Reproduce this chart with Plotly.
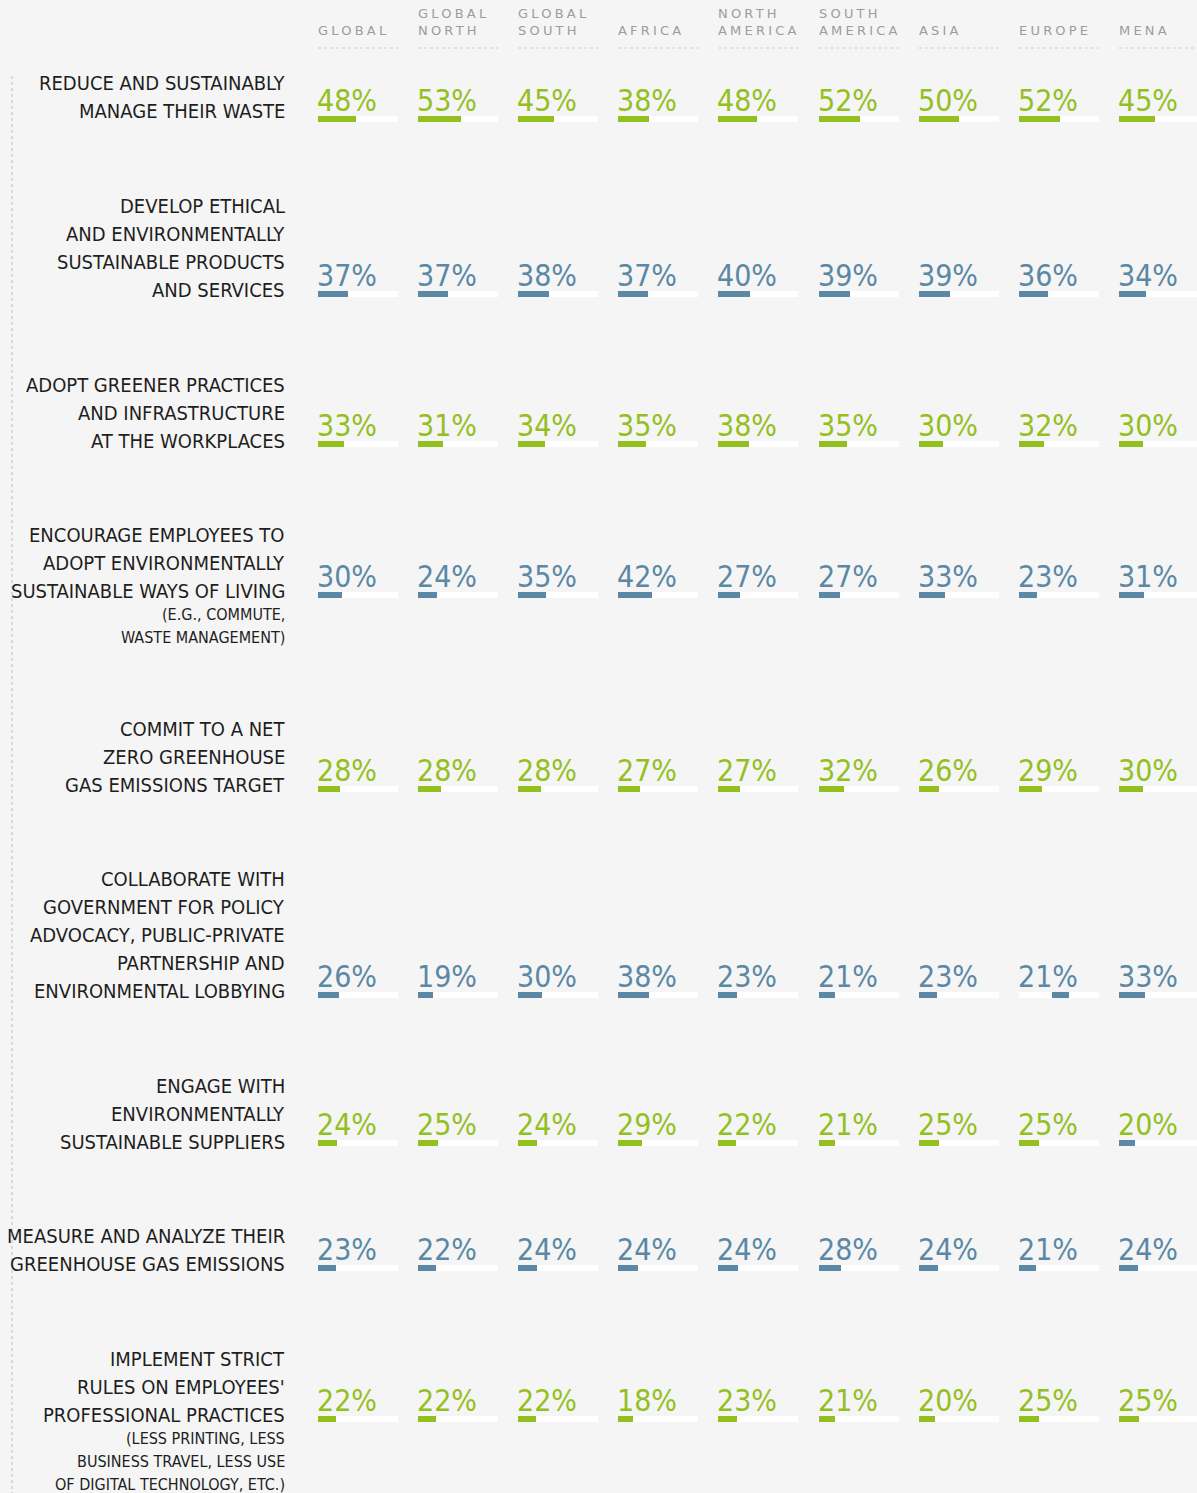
import plotly.graph_objects as go

# ---------------- data ----------------
regions = ["GLOBAL", "GLOBAL NORTH", "GLOBAL SOUTH", "AFRICA", "NORTH AMERICA",
           "SOUTH AMERICA", "ASIA", "EUROPE", "MENA"]

action_main = [
    ["REDUCE AND SUSTAINABLY", "MANAGE THEIR WASTE"],
    ["DEVELOP ETHICAL", "AND ENVIRONMENTALLY", "SUSTAINABLE PRODUCTS", "AND SERVICES"],
    ["ADOPT GREENER PRACTICES", "AND INFRASTRUCTURE", "AT THE WORKPLACES"],
    ["ENCOURAGE EMPLOYEES TO", "ADOPT ENVIRONMENTALLY", "SUSTAINABLE WAYS OF LIVING"],
    ["COMMIT TO A NET", "ZERO GREENHOUSE", "GAS EMISSIONS TARGET"],
    ["COLLABORATE WITH", "GOVERNMENT FOR POLICY", "ADVOCACY, PUBLIC-PRIVATE",
     "PARTNERSHIP AND", "ENVIRONMENTAL LOBBYING"],
    ["ENGAGE WITH", "ENVIRONMENTALLY", "SUSTAINABLE SUPPLIERS"],
    ["MEASURE AND ANALYZE THEIR", "GREENHOUSE GAS EMISSIONS"],
    ["IMPLEMENT STRICT", "RULES ON EMPLOYEES'", "PROFESSIONAL PRACTICES"],
]
action_note = [
    [], [], [],
    ["(E.G., COMMUTE,", "WASTE MANAGEMENT)"],
    [], [], [], [],
    ["(LESS PRINTING, LESS", "BUSINESS TRAVEL, LESS USE", "OF DIGITAL TECHNOLOGY, ETC.)"],
]

reduce_waste      = [48, 53, 45, 38, 48, 52, 50, 52, 45]
ethical_products  = [37, 37, 38, 37, 40, 39, 39, 36, 34]
greener_workplace = [33, 31, 34, 35, 38, 35, 30, 32, 30]
employee_living   = [30, 24, 35, 42, 27, 27, 33, 23, 31]
net_zero          = [28, 28, 28, 27, 27, 32, 26, 29, 30]
govt_collab       = [26, 19, 30, 38, 23, 21, 23, 21, 33]
green_suppliers   = [24, 25, 24, 29, 22, 21, 25, 25, 20]
measure_ghg       = [23, 22, 24, 24, 24, 28, 24, 21, 24]
strict_rules      = [22, 22, 22, 18, 23, 21, 20, 25, 25]

values = [reduce_waste, ethical_products, greener_workplace, employee_living,
          net_zero, govt_collab, green_suppliers, measure_ghg, strict_rules]

# ---------------- layout / style ----------------
W, H = 1197, 1493
BG = "#f5f5f5"
GREEN = "#93c01f"
BLUE = "#5b88a4"
TEXT_DARK = "#1e1e1e"
HEAD_GRAY = "#9c9c9c"

X0_PX = 318          # left edge of first column
PITCH_PX = 100.1     # column pitch
BAR_PX = 80          # width of the 100% track
PPU = BAR_PX / 100.0 # pixels per percentage unit
LABEL_RIGHT_PX = 287

row_y = [100, 275, 425, 576, 770, 976, 1124, 1249, 1400]      # percent text centre (px)
label_last_y = [111, 290, 441, 591, 785, 991, 1142, 1264, 1415]  # last main label line centre
MAIN_LH = 28
NOTE_LH = 23
BAR_DY = 19
BAR_H = 6

row_colors = [GREEN, BLUE] * 5
# quirks in the original artwork
bar_color_override = {(6, 8): BLUE}
bar_shift_override = {(5, 7): 42}   # units

col_base = [i * PITCH_PX / PPU for i in range(len(regions))]

fig = go.Figure()

# track bars
tx, tb, ty = [], [], []
for r in range(len(values)):
    for c in range(len(regions)):
        tx.append(100); tb.append(col_base[c]); ty.append(row_y[r] + BAR_DY)
fig.add_trace(go.Bar(orientation="h", x=tx, base=tb, y=ty, width=BAR_H,
                     marker=dict(color="#ffffff", line=dict(width=0)),
                     hoverinfo="skip", showlegend=False))

# value bars
vx, vb, vy, vc = [], [], [], []
for r, row in enumerate(values):
    for c, v in enumerate(row):
        vx.append(v)
        vb.append(col_base[c] + bar_shift_override.get((r, c), 0))
        vy.append(row_y[r] + BAR_DY)
        vc.append(bar_color_override.get((r, c), row_colors[r]))
fig.add_trace(go.Bar(orientation="h", x=vx, base=vb, y=vy, width=BAR_H,
                     marker=dict(color=vc, line=dict(width=0)),
                     hovertemplate="%{x}%<extra></extra>", showlegend=False))

PCT_FONT = "DejaVu Sans Condensed, Liberation Sans Narrow, Roboto, sans-serif"
LBL_FONT = "DejaVu Sans Condensed, Liberation Sans Narrow, Roboto, sans-serif"

annotations = []
# percent labels
for r, row in enumerate(values):
    for c, v in enumerate(row):
        annotations.append(dict(x=col_base[c], y=row_y[r], xref="x", yref="y",
                                text=f"{v}%", showarrow=False, xanchor="left",
                                yanchor="middle", xshift=-3,
                                font=dict(family=PCT_FONT, size=30, color=row_colors[r])))

# region headers
for c, name in enumerate(regions):
    parts = name.split(" ")
    txt = "<br>".join(f'<span style="letter-spacing:3.2px">{p}</span>' for p in parts)
    annotations.append(dict(x=col_base[c], y=40, xref="x", yref="y", text=txt,
                            showarrow=False, xanchor="left", yanchor="bottom",
                            align="left", xshift=-2,
                            font=dict(family="DejaVu Sans, sans-serif", size=13, color=HEAD_GRAY)))

# action labels, one annotation per line
for r in range(len(values)):
    main = action_main[r]
    note = action_note[r]
    n = len(main)
    for i, line in enumerate(main):
        yc = label_last_y[r] - (n - 1 - i) * MAIN_LH
        annotations.append(dict(x=LABEL_RIGHT_PX / W, y=yc, xref="paper", yref="y",
                                text=line, showarrow=False, xanchor="right",
                                yanchor="middle", align="right",
                                font=dict(family=LBL_FONT, size=20, color=TEXT_DARK)))
    for i, line in enumerate(note):
        yc = label_last_y[r] + (i + 1) * NOTE_LH
        annotations.append(dict(x=LABEL_RIGHT_PX / W, y=yc, xref="paper", yref="y",
                                text=line, showarrow=False, xanchor="right",
                                yanchor="middle", align="right",
                                font=dict(family=LBL_FONT, size=16, color=TEXT_DARK)))

shapes = []
for c in range(len(regions)):
    shapes.append(dict(type="line", xref="x", yref="y", x0=col_base[c], x1=col_base[c] + 100,
                       y0=48, y1=48, line=dict(color="#cdcdcd", width=1, dash="dot")))
shapes.append(dict(type="line", xref="paper", yref="y", x0=12 / W, x1=12 / W,
                   y0=76, y1=H, line=dict(color="#bdbdbd", width=1, dash="dot")))

fig.update_layout(
    width=W, height=H, autosize=False,
    margin=dict(l=0, r=0, t=0, b=0),
    paper_bgcolor=BG, plot_bgcolor=BG,
    barmode="overlay", bargap=0,
    xaxis=dict(range=[-X0_PX / PPU, (W - X0_PX) / PPU], visible=False, fixedrange=True),
    yaxis=dict(range=[H, 0], visible=False, fixedrange=True),
    annotations=annotations, shapes=shapes,
    showlegend=False,
)

fig.write_html("out.html", config={"displayModeBar": False},
               post_script="document.body.style.margin='0';"
                           "document.body.style.background='#f5f5f5';"
                           "document.body.style.overflow='hidden';")
